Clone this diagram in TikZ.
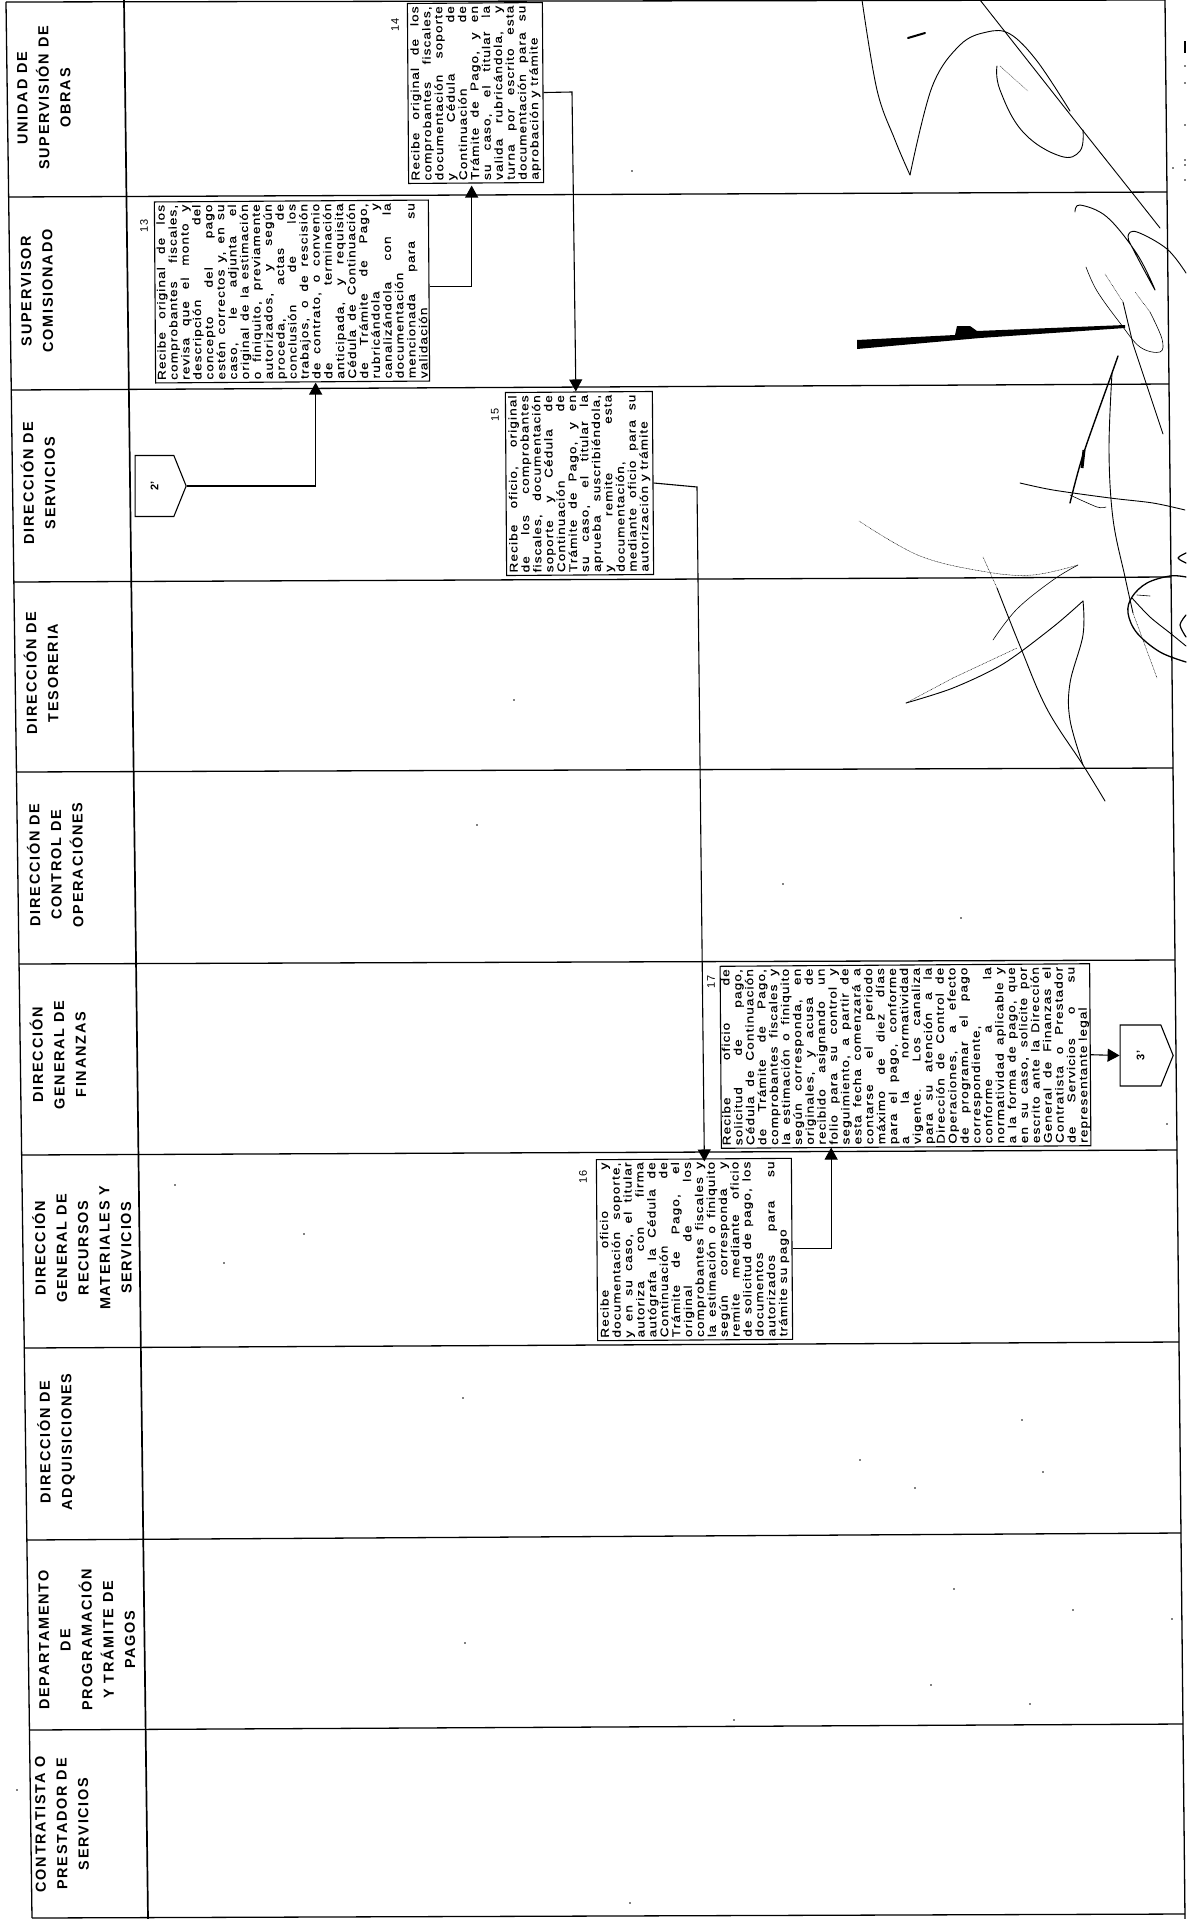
\documentclass[tikz,border=0pt]{standalone}
\usepackage{fontspec}
\setmainfont{Liberation Sans}
\newfontfamily\encabfont[LetterSpace=12]{Liberation Sans}
\newfontfamily\cajafont[LetterSpace=10,FakeStretch=1.2,FakeBold=0.3]{Liberation Sans}
\usetikzlibrary{arrows.meta,calc,shapes.symbols}
\tikzset{
  linea/.style={line width=1.3pt},
  encab/.style={rotate=90.4,align=center,inner sep=0pt,font=\fontsize{14.5}{21.5}\selectfont\encabfont\bfseries},
  caja/.style={draw,line width=1.1pt,rotate=90.4,inner xsep=3pt,inner ysep=1pt,align=justify,
    font=\fontsize{11.3}{11.9}\selectfont\cajafont,
    execute at begin node={\tolerance=9999\hbadness=10000\hyphenpenalty=10000}},
  numero/.style={rotate=90.4,inner sep=0pt,font=\fontsize{11}{12}\selectfont},
  conector/.style={draw,line width=1.1pt,signal,signal to=east,signal pointer angle=136,inner sep=0pt,font=\fontsize{11}{12}\selectfont\bfseries},
  flecha/.style={line width=1.1pt,-{Triangle[length=12pt,width=13pt]}},
  firma/.style={line width=0.9pt,line cap=round,line join=round},
  fino/.style={line width=0.5pt,line cap=round,densely dotted},
}
\begin{document}
\begin{tikzpicture}[x=1pt,y=-1pt]
  \useasboundingbox (0,0) rectangle (1186,1919);
  \draw[linea] (6,2) -- (1165,0);
  \foreach \xa/\ya/\xb/\yb in {9/197/1167/192,11/390/1169/384,14/582/1171/577,16/772/1173/768,19/964/1175/960,22/1155/1177/1150,24/1348/1179/1342,27/1540/1181/1533,29/1730/1183/1724,32/1918/1185/1914}
    \draw[linea] (\xa,\ya) -- (\xb,\yb);
  \draw[linea] (6,2) -- (32,1918);
  \draw[line width=1.7pt] (124,0) -- (148,1919);
  \draw[linea] (1165,0) -- (1185,1919);

  \node[encab] (h1) at (44,98) {UNIDAD DE\\SUPERVISIÓN DE\\OBRAS};
  \node[encab] (h2) at (37,291) {SUPERVISOR\\COMISIONADO};
  \node[encab] (h3) at (38,483) {DIRECCIÓN DE\\SERVICIOS};
  \node[encab] (h4) at (41,673) {DIRECCIÓN DE\\TESORERIA};
  \node[encab] (h5) at (55,865) {DIRECCIÓN DE\\CONTROL DE\\OPERACIÓNES};
  \node[encab] (h6) at (58,1055) {DIRECCIÓN\\GENERAL DE\\FINANZAS};
  \node[encab] (h7) at (82,1248) {DIRECCIÓN\\GENERAL DE\\RECURSOS\\MATERIALES Y\\SERVICIOS};
  \node[encab] (h8) at (56,1442) {DIRECCIÓN DE\\ADQUISICIONES};
  \node[encab] (h9) at (87,1640) {DEPARTAMENTO\\DE\\PROGRAMACIÓN\\Y TRÁMITE DE\\PAGOS};
  \node[encab] (h10) at (62,1824) {CONTRATISTA O\\PRESTADOR DE\\SERVICIOS};

  \node[conector,minimum width=51pt,minimum height=61pt] (p2) at (154.5,486) {\rotatebox{90}{2'}};
  \node[conector,minimum width=53pt,minimum height=61pt] (p3) at (1140.5,1055.5) {\rotatebox{90}{3'}};

  \node[numero] (n13) at (144,226) {13};
  \node[numero] (n14) at (395,25) {14};
  \node[numero] (n15) at (495,415) {15};
  \node[numero] (n16) at (583,1177) {16};
  \node[numero] (n17) at (711,982) {17};

  \node[caja,minimum height=274pt,text width=175pt] (box13) at (292,291.5) {
    Recibe original de los\linebreak
    comprobantes fiscales,\linebreak
    revisa que el monto y\linebreak
    descripción del\linebreak
    concepto del pago\linebreak
    estén correctos y, en su\linebreak
    caso, le adjunta el\linebreak
    original de la estimación\linebreak
    o finiquito, previamente\linebreak
    autorizados, y según\linebreak
    proceda, actas de\linebreak
    conclusión de los\linebreak
    trabajos, o de rescisión\linebreak
    de contrato, o convenio\linebreak
    de terminación\linebreak
    anticipada, y requisita\linebreak
    Cédula de Continuación\linebreak
    de Trámite de Pago,\linebreak
    rubricándola y\linebreak
    canalizándola con la\linebreak
    documentación\linebreak
    mencionada para su\linebreak
    validación};
  \node[caja,minimum height=135pt,text width=174pt] (box14) at (475.5,93) {
    Recibe original de los\linebreak
    comprobantes fiscales,\linebreak
    documentación soporte\linebreak
    y Cédula de\linebreak
    Continuación de\linebreak
    Trámite de Pago, y en\linebreak
    su caso, el titular la\linebreak
    valida rubricándola, y\linebreak
    turna por escrito esta\linebreak
    documentación para su\linebreak
    aprobación y trámite};
  \node[caja,minimum height=147pt,text width=177pt] (box15) at (579.5,483.5) {
    Recibe oficio, original\linebreak
    de los comprobantes\linebreak
    fiscales, documentación\linebreak
    soporte y Cédula de\linebreak
    Continuación de\linebreak
    Trámite de Pago, y en\linebreak
    su caso, el titular la\linebreak
    aprueba suscribiéndola,\linebreak
    y remite esta\linebreak
    documentación,\linebreak
    mediante oficio para su\linebreak
    autorización y trámite};
  \node[caja,minimum height=195pt,text width=175pt] (box16) at (694.5,1249.5) {
    Recibe oficio y\linebreak
    documentación soporte,\linebreak
    y en su caso, el titular\linebreak
    autoriza con firma\linebreak
    autógrafa la Cédula de\linebreak
    Continuación de\linebreak
    Trámite de Pago, el\linebreak
    original de los\linebreak
    comprobantes fiscales y\linebreak
    la estimación o finiquito\linebreak
    según corresponda y\linebreak
    remite mediante oficio\linebreak
    de solicitud de pago, los\linebreak
    documentos\linebreak
    autorizados para su\linebreak
    trámite su pago};
  \node[caja,minimum height=367pt,text width=176pt] (box17) at (905.5,1056) {
    Recibe oficio de\linebreak
    solicitud de pago,\linebreak
    Cédula de Continuación\linebreak
    de Trámite de Pago,\linebreak
    comprobantes fiscales y\linebreak
    la estimación o finiquito\linebreak
    según corresponda, en\linebreak
    originales, y acusa de\linebreak
    recibido asignando un\linebreak
    folio para su control y\linebreak
    seguimiento, a partir de\linebreak
    esta fecha comenzará a\linebreak
    contarse el periodo\linebreak
    máximo de diez días\linebreak
    para el pago, conforme\linebreak
    a la normatividad\linebreak
    vigente. Los canaliza\linebreak
    para su atención a la\linebreak
    Dirección de Control de\linebreak
    Operaciones, a efecto\linebreak
    de programar el pago\linebreak
    correspondiente,\linebreak
    conforme a la\linebreak
    normatividad aplicable y\linebreak
    a la forma de pago, que\linebreak
    en su caso, solicite por\linebreak
    escrito ante la Dirección\linebreak
    General de Finanzas el\linebreak
    Contratista o Prestador\linebreak
    de Servicios o su\linebreak
    representante legal};

  \coordinate (c14) at (572,92);
  \coordinate (c15) at (697,487);
  \draw[flecha] (p2.east) -| ($(box13.west)+(23,0)$);
  \draw[flecha] ($(box13.south)+(0,-4)$) -| ($(box14.west)+(-4.5,2)$);
  \draw[flecha] (box14.south) -- (c14) -- ($(box15.east)+(-3,0)$);
  \draw[flecha] (box15.south) -- (c15) -- ($(box16.east)+(10.5,3)$);
  \draw[flecha] (box16.south) -| ($(box17.west)+(-75,0)$);
  \draw[flecha] (box17.south) -- (p3.west);

  \draw[firma] plot[smooth,tension=.6] coordinates {(862,0) (877,90) (895,140) (910,175)};
  \draw[firma] plot[smooth,tension=.6] coordinates {(910,175) (932,87) (960,45) (987,32) (1010,34) (1037,61) (1070,111)};
  \draw[firma] plot[smooth,tension=.4] coordinates {(980,0) (1080,127) (1130,190) (1160,228)};
  \draw[firma] plot[smooth,tension=.7] coordinates {(997,66) (1000,90) (1023,132) (1060,156) (1080,151) (1083,130)};
  \draw[fino] (1000,66) -- (1028,91);
  \draw[line width=2pt,line cap=round] (908,38) -- (925,33);
  \draw[firma] plot[smooth,tension=.6] coordinates {(1075,212) (1080,205) (1107,217) (1137,254) (1155,290) (1133,249) (1128,236) (1137,232) (1167,249) (1186,273)};
  \draw[firma,line width=0.6pt] plot[smooth,tension=.6] coordinates {(1086,267) (1097,291) (1120,323) (1140,347) (1160,352) (1162,339) (1150,312)};
  \draw[fino] plot[smooth] coordinates {(1150,312) (1135,292)};
  \draw[fino] (1105,274) -- (1123,302);
  \draw[firma] (1123,302) -- (1133,344) -- (1163,434);
  \fill (857,340) -- (955,335) -- (957,326) -- (970,326) -- (977,331) -- (1125,325) -- (1125,328) -- (980,338) -- (857,349) -- cycle;
  \draw[firma,line width=1.4pt] plot[smooth,tension=.5] coordinates {(1118,356) (1112,373) (1083,455) (1070,503)};
  \draw[line width=3pt] (1084,450) -- (1082,468);
  \draw[firma,line width=0.6pt] plot[smooth] coordinates {(1070,495) (1097,507) (1106,507)};
  \draw[firma] plot[smooth,tension=.6] coordinates {(1112,373) (1109,450) (1113,519) (1125,577) (1133,613)};
  \draw[fino] (1133,613) -- (1157,678);
  \draw[firma] plot[smooth,tension=.5] coordinates {(1020,483) (1053,490) (1110,498) (1153,503) (1185,510)};
  \draw[fino] plot[smooth,tension=.6] coordinates {(859,521) (920,556) (987,572) (1033,575) (1078,565)};
  \draw[firma,line width=0.6pt] plot[smooth,tension=.6] coordinates {(993,640) (1017,609) (1053,580) (1078,565)};
  \draw[fino] (983,557) -- (997,588);
  \draw[firma] plot[smooth,tension=.6] coordinates {(997,588) (1020,646) (1047,709) (1083,765) (1105,801)};
  \draw[firma] plot[smooth,tension=.5] coordinates {(906,703) (953,688) (1003,664) (1053,627) (1083,601)};
  \draw[firma] plot[smooth,tension=.6] coordinates {(1083,601) (1083,635) (1070,683) (1070,720) (1083,765)};
  \draw[fino] (906,703) -- (953,678) -- (1017,648);
  \draw[firma,line width=1.3pt] plot[smooth,tension=.6] coordinates {(1186,577) (1170,576) (1147,583) (1132,597) (1128,613) (1137,633) (1160,652) (1186,662)};
  \draw[firma] plot[smooth,tension=.5] coordinates {(1132,598) (1150,617) (1170,633) (1186,646)};
  \draw[firma,line width=0.6pt] (1137,595) -- (1150,596);
  \draw[firma,line width=1.2pt] plot[smooth] coordinates {(1186,553) (1178,558) (1186,563)};
  \draw[firma,line width=1.2pt] plot[smooth] coordinates {(1186,615) (1180,625) (1186,637)};

  \foreach \x/\y in {961/918,860/1460,915/1488,1043/1472,1022/1420,954/1589,1073/1610,1172/1619,931/1685,1030/1704,1167/1124,514/700,477/825,175/1185,304/1234,224/1263,463/1398,632/171,783/884,630/1903,465/1643,734/1720,17/1790,1173/168,1185/66,1185/83,1185/125,1185/160,1185/165,1185/180}
    \fill (\x,\y) circle[radius=0.9pt];
  \fill (1184,41) rectangle (1186,53);
\end{tikzpicture}
\end{document}
